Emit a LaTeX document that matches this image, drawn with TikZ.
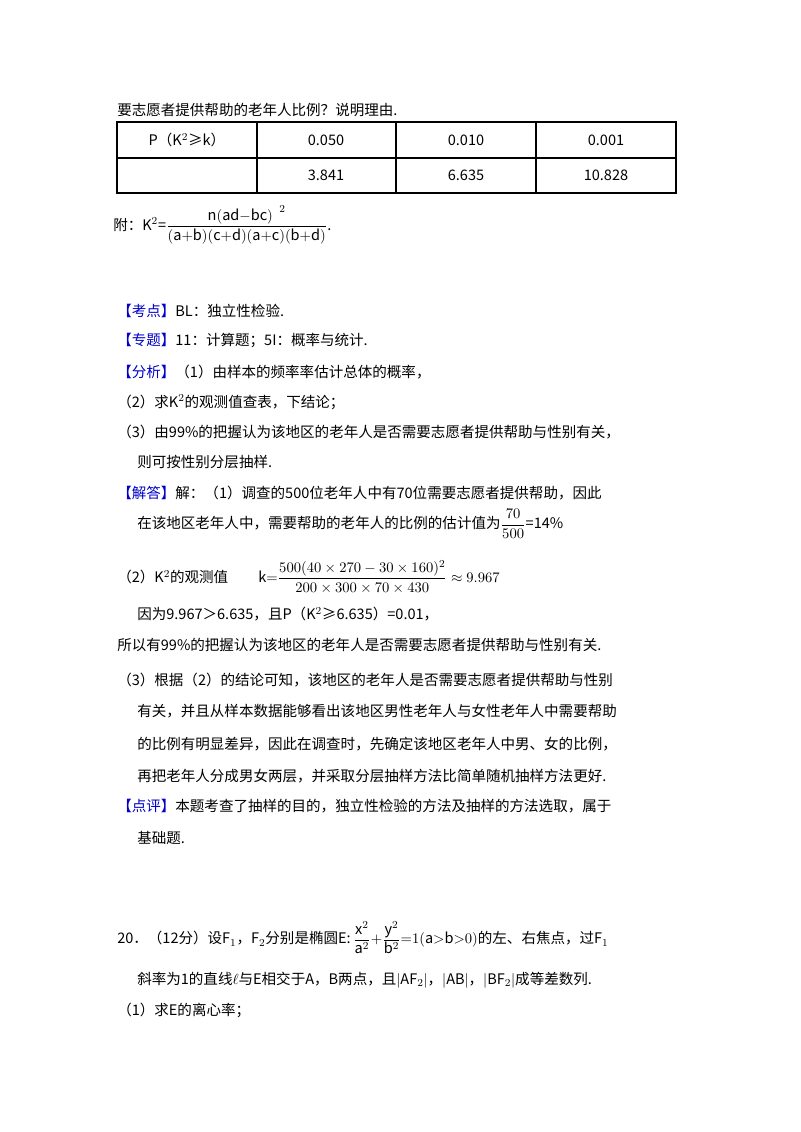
\documentclass[tikz,border=0pt]{standalone}
\usepackage{amsmath}
\usepackage{fontspec}
\setmainfont{Noto Sans CJK SC}
\definecolor{kb}{RGB}{0,0,200}
\newcommand{\tg}[1]{{\color{kb}【#1】}}
\begin{document}
\begin{tikzpicture}[x=0.75pt,y=-0.75pt,
  ln/.style={anchor=west,inner sep=0pt,font=\fontsize{10.9}{13}\selectfont},
  cell/.style={inner sep=0pt,font=\fontsize{10.9}{13}\selectfont}]
\useasboundingbox[fill=white] (0,0) rectangle (800,1132);
\node[ln] (l1) at (117,110) {要志愿者提供帮助的老年人比例？说明理由.};
\draw[line width=0.8pt] (117,122) rectangle (676,193);
\draw[line width=0.8pt] (117,158) -- (676,158);
\foreach \x in {257,396,536} \draw[line width=0.8pt] (\x,122) -- (\x,193);
\node[cell] (c11) at (187,140) {P（K$^2$≥k）};
\node[cell] (c12) at (326,140) {0.050};
\node[cell] (c13) at (466,140) {0.010};
\node[cell] (c14) at (606,140) {0.001};
\node[cell] (c22) at (326,175) {3.841};
\node[cell] (c23) at (466,175) {6.635};
\node[cell] (c24) at (606,175) {10.828};
\node[ln] (f) at (113,225) {附：K$^2$=$\dfrac{\mathrm{n(ad{-}bc)}^{\ \ 2}}{\mathrm{(a{+}b)(c{+}d)(a{+}c)(b{+}d)}}$.};
\node[ln] (k1) at (117,311) {\tg{考点}BL：独立性检验.};
\node[ln] (k2) at (117,341) {\tg{专题}11：计算题；5I：概率与统计.};
\node[ln] (k3) at (117,372) {\tg{分析}（1）由样本的频率率估计总体的概率，};
\node[ln] (k4) at (117,402) {（2）求K$^2$的观测值查表，下结论；};
\node[ln] (k5) at (117,432) {（3）由99\%的把握认为该地区的老年人是否需要志愿者提供帮助与性别有关，};
\node[ln] (k6) at (137,462) {则可按性别分层抽样.};
\node[ln] (k7) at (117,493) {\tg{解答}解：（1）调查的500位老年人中有70位需要志愿者提供帮助，因此};
\node[ln] (k8) at (137,524) {在该地区老年人中，需要帮助的老年人的比例的估计值为$\dfrac{70}{500}$=14\%};
\node[ln] (k9) at (117,577) {（2）K$^2$的观测值};
\node[ln] (k10) at (258,577) {$\mathrm{k}{=}\dfrac{500(40\times270-30\times160)^2}{200\times300\times70\times430}\approx9.967$};
\node[ln] (k11) at (137,614) {因为9.967＞6.635，且P（K$^2$≥6.635）=0.01，};
\node[ln] (k12) at (117,645) {所以有99\%的把握认为该地区的老年人是否需要志愿者提供帮助与性别有关.};
\node[ln] (k13) at (117,680) {（3）根据（2）的结论可知，该地区的老年人是否需要志愿者提供帮助与性别};
\node[ln] (k14) at (137,711) {有关，并且从样本数据能够看出该地区男性老年人与女性老年人中需要帮助};
\node[ln] (k15) at (137,744) {的比例有明显差异，因此在调查时，先确定该地区老年人中男、女的比例，};
\node[ln] (k16) at (137,776) {再把老年人分成男女两层，并采取分层抽样方法比简单随机抽样方法更好.};
\node[ln] (k17) at (117,806) {\tg{点评}本题考查了抽样的目的，独立性检验的方法及抽样的方法选取，属于};
\node[ln] (k18) at (137,838) {基础题.};
\node[ln] (q1) at (117,938) {20．（12分）设F$_1$，F$_2$分别是椭圆E:\,$\dfrac{\mathrm{x}^2}{\mathrm{a}^2}{+}\dfrac{\mathrm{y}^2}{\mathrm{b}^2}{=}1(\mathrm{a}{>}\mathrm{b}{>}0)$的左、右焦点，过F$_1$};
\node[ln] (q2) at (137,980) {斜率为1的直线$\ell$与E相交于A，B两点，且$|$AF$_2|$，$|$AB$|$，$|$BF$_2|$成等差数列.};
\node[ln] (q3) at (117,1010) {（1）求E的离心率；};
\end{tikzpicture}
\end{document}
